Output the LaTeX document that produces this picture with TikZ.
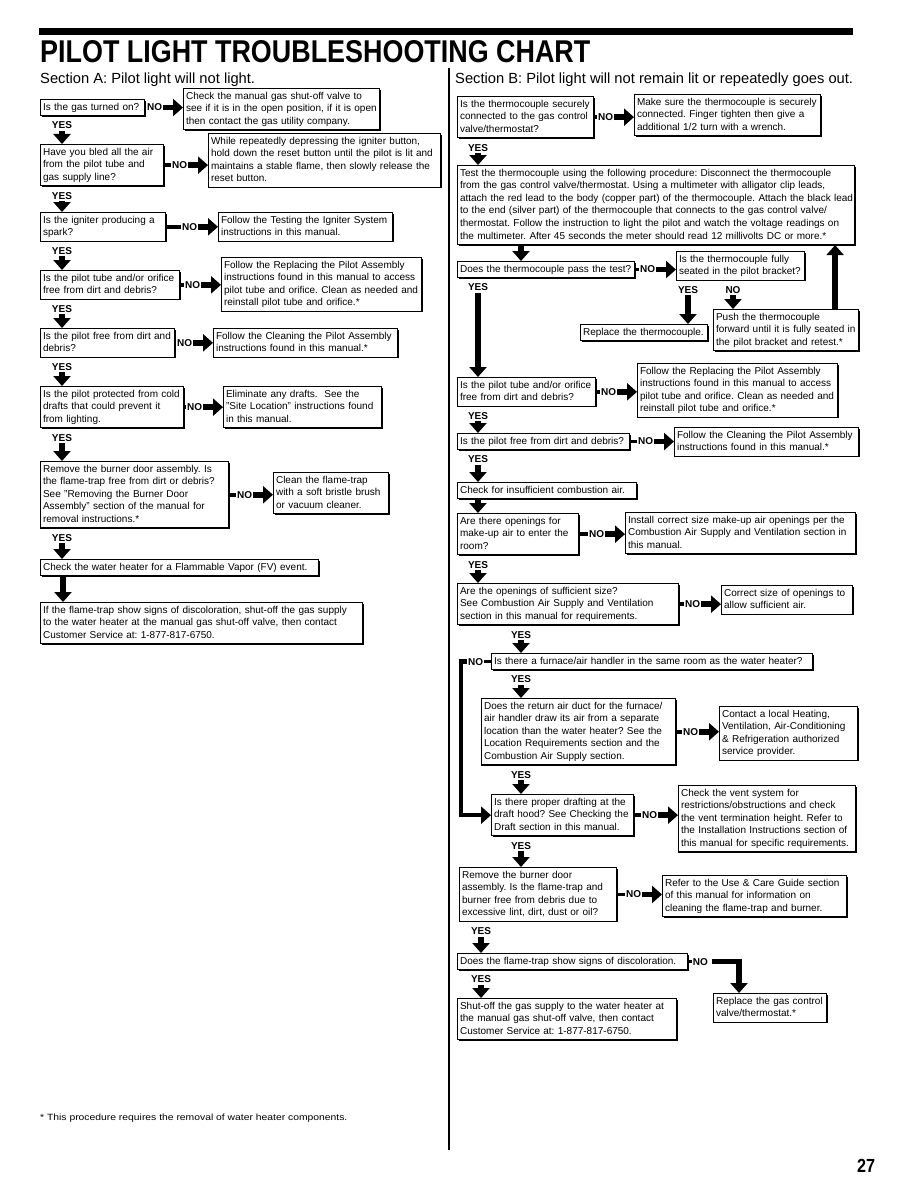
\documentclass[tikz,border=0pt]{standalone}
\usepackage{fontspec}
\setmainfont{Liberation Sans}
\usepackage{graphicx}
\usetikzlibrary{arrows.meta,calc,shadows}
\frenchspacing
\newcommand\lns[1]{\begin{tabular}{@{}l@{}}#1\end{tabular}}
\tikzset{
  box/.style={draw, line width=1.1pt, fill=white, anchor=north west,
    inner xsep=2.5pt, inner ysep=1.7pt, align=left,
    font=\fontsize{10}{12.6}\selectfont,
    drop shadow={shadow xshift=1pt, shadow yshift=-1pt, fill=black, opacity=1}},
  lab/.style={font=\bfseries\fontsize{10}{12}\selectfont, inner sep=0.6pt},
  bar/.style={line width=3.5pt},
  fat/.style={line width=5.5pt, -{Triangle[length=10pt,width=17pt]}},
  loopln/.style={line width=4.5pt, -{Triangle[length=10pt,width=17pt]}},
}
\newcommand\NOconn[3]{%
  \node[lab,anchor=east] (#3) at ($(#2.west |- #1.east)+(-20,0)$) {NO};
  \draw[bar] (#1.east) -- (#3.west);
  \draw[fat] (#3.east) -- (#2.west |- #3.east);}
\newcommand\YESconn[4]{%
  \node[lab,anchor=north] (#3) at ($(#1.south west)+(#4,5)$) {YES};
  \draw[fat] ($(#3.south)+(0,1)$) -- (#3.south |- #2.north);}
\begin{document}
\begin{tikzpicture}[x=1pt,y=-1pt]
\fill[white] (0,0) rectangle (918,1188);
\useasboundingbox (0,0) rectangle (918,1188);
% header
\fill[black] (39,28) rectangle (853,35);
\node[anchor=north west, inner sep=0] (title) at (40,40)
  {\resizebox{550pt}{22pt}{\bfseries PILOT LIGHT TROUBLESHOOTING CHART}};
\node[anchor=base west, inner sep=0, font=\fontsize{14.7}{17}\selectfont] (secA) at (40,84)
  {Section A: Pilot light will not light.};
\node[anchor=base west, inner sep=0, font=\fontsize{14.7}{17}\selectfont] (secB) at (455,84)
  {Section B: Pilot light will not remain lit or repeatedly goes out.};
\draw[line width=1.2pt] (449,68) -- (449,1150);

% ---------------- Section A ----------------
\node[box, text width=99pt] (A1) at (40,99) {\lns{Is the gas turned on?}};
\node[box, text width=191pt] (A1n) at (183,88) {\lns{Check the manual gas shut-off valve to\\see if it is in the open position, if it is open\\then contact the gas utility company.}};
\node[box, text width=118pt] (A2) at (40,144) {\lns{Have you bled all the air\\from the pilot tube and\\gas supply line?}};
\node[box, text width=227pt] (A2n) at (208,133) {\lns{While repeatedly depressing the igniter button,\\hold down the reset button until the pilot is lit and\\maintains a stable flame, then slowly release the\\reset button.}};
\node[box, text width=120pt] (A3) at (40,212) {\lns{Is the igniter producing a\\spark?}};
\node[box, text width=169pt] (A3n) at (218,212) {\lns{Follow the Testing the Igniter System\\instructions in this manual.}};
\node[box, text width=134pt] (A4) at (40,270) {\lns{Is the pilot tube and/or orifice\\free from dirt and debris?}};
\node[box, text width=195pt] (A4n) at (221,257) {\lns{Follow the Replacing the Pilot Assembly\\instructions found in this manual to access\\pilot tube and orifice. Clean as needed and\\reinstall pilot tube and orifice.*}};
\node[box, text width=129pt] (A5) at (40,328) {\lns{Is the pilot free from dirt and\\debris?}};
\node[box, text width=179pt] (A5n) at (213,328) {\lns{Follow the Cleaning the Pilot Assembly\\instructions found in this manual.*}};
\node[box, text width=138pt] (A6) at (40,386) {\lns{Is the pilot protected from cold\\drafts that could prevent it\\from lighting.}};
\node[box, text width=153pt] (A6n) at (223,386) {\lns{Eliminate any drafts.\ \ See the\\"Site Location" instructions found\\in this manual.}};
\node[box, text width=183pt] (A7) at (40,461) {\lns{Remove the burner door assembly. Is\\the flame-trap free from dirt or debris?\\See "Removing the Burner Door\\Assembly" section of the manual for\\removal instructions.*}};
\node[box, text width=110pt] (A7n) at (273,472) {\lns{Clean the flame-trap\\with a soft bristle brush\\or vacuum cleaner.}};
\node[box, text width=273pt] (A8) at (40,559) {\lns{Check the water heater for a Flammable Vapor (FV) event.}};
\node[box, text width=317pt] (A9) at (40,602) {\lns{If the flame-trap show signs of discoloration, shut-off the gas supply\\to the water heater at the manual gas shut-off valve, then contact\\Customer Service at: 1-877-817-6750.}};

\NOconn{A1}{A1n}{nA1}
\NOconn{A2}{A2n}{nA2}
\NOconn{A3}{A3n}{nA3}
\NOconn{A4}{A4n}{nA4}
\NOconn{A5}{A5n}{nA5}
\NOconn{A6}{A6n}{nA6}
\NOconn{A7}{A7n}{nA7}
\YESconn{A1}{A2}{yA1}{22}
\YESconn{A2}{A3}{yA2}{22}
\YESconn{A3}{A4}{yA3}{22}
\YESconn{A4}{A5}{yA4}{22}
\YESconn{A5}{A6}{yA5}{22}
\YESconn{A6}{A7}{yA6}{22}
\YESconn{A7}{A8}{yA7}{22}
\coordinate (a8o) at ($(A8.south west)+(23,0)$);
\draw[fat] (a8o) -- (a8o |- A9.north);

% ---------------- Section B ----------------
\node[box, text width=131pt] (B1) at (457,96) {\lns{Is the thermocouple securely\\connected to the gas control\\valve/thermostat?}};
\node[box, text width=181pt] (B1n) at (634,94) {\lns{Make sure the thermocouple is securely\\connected. Finger tighten then give a\\additional 1/2 turn with a wrench.}};
\node[box, text width=392pt] (B2) at (457,165) {\lns{Test the thermocouple using the following procedure: Disconnect the thermocouple\\from the gas control valve/thermostat. Using a multimeter with alligator clip leads,\\attach the red lead to the body (copper part) of the thermocouple. Attach the black lead\\to the end (silver part) of the thermocouple that connects to the gas control valve/\\thermostat. Follow the instruction to light the pilot and watch the voltage readings on\\the multimeter. After 45 seconds the meter should read 12 millivolts DC or more.*}};
\node[box, text width=172pt] (B3) at (457,261) {\lns{Does the thermocouple pass the test?}};
\node[box, text width=123pt] (B3n) at (676,251) {\lns{Is the thermocouple fully\\seated in the pilot bracket?}};
\node[box, text width=122pt] (Rep) at (580,324) {\lns{Replace the thermocouple.}};
\node[box, text width=140pt] (Push) at (713,309) {\lns{Push the thermocouple\\forward until it is fully seated in\\the pilot bracket and retest.*}};
\node[box, text width=133pt] (B6) at (457,377) {\lns{Is the pilot tube and/or orifice\\free from dirt and debris?}};
\node[box, text width=195pt] (B6n) at (637,363) {\lns{Follow the Replacing the Pilot Assembly\\instructions found in this manual to access\\pilot tube and orifice. Clean as needed and\\reinstall pilot tube and orifice.*}};
\node[box, text width=167pt] (B7) at (457,433) {\lns{Is the pilot free from dirt and debris?}};
\node[box, text width=179pt] (B7n) at (674,427) {\lns{Follow the Cleaning the Pilot Assembly\\instructions found in this manual.*}};
\node[box, text width=174pt] (B8) at (457,482) {\lns{Check for insufficient combustion air.}};
\node[box, text width=116pt] (B9) at (457,513) {\lns{Are there openings for\\make-up air to enter the\\room?}};
\node[box, text width=225pt] (B9n) at (625,512) {\lns{Install correct size make-up air openings per the\\Combustion Air Supply and Ventilation section in\\this manual.}};
\node[box, text width=216pt] (B10) at (457,583) {\lns{Are the openings of sufficient size?\\See Combustion Air Supply and Ventilation\\section in this manual for requirements.}};
\node[box, text width=126pt] (B10n) at (721,585) {\lns{Correct size of openings to\\allow sufficient air.}};
\node[box, text width=316pt] (B11) at (491,653) {\lns{Is there a furnace/air handler in the same room as the water heater?}};
\node[box, text width=189pt] (B12) at (481,698) {\lns{Does the return air duct for the furnace/\\air handler draw its air from a separate\\location than the water heater? See the\\Location Requirements section and the\\Combustion Air Supply section.}};
\node[box, text width=133pt] (B12n) at (719,706) {\lns{Contact a local Heating,\\Ventilation, Air-Conditioning\\\& Refrigeration authorized\\service provider.}};
\node[box, text width=137pt] (B13) at (491,794) {\lns{Is there proper drafting at the\\draft hood? See Checking the\\Draft section in this manual.}};
\node[box, text width=172pt] (B13n) at (678,785) {\lns{Check the vent system for\\restrictions/obstructions and check\\the vent termination height. Refer to\\the Installation Instructions section of\\this manual for specific requirements.}};
\node[box, text width=152pt] (B14) at (459,867) {\lns{Remove the burner door\\assembly. Is the flame-trap and\\burner free from debris due to\\excessive lint, dirt, dust or oil?}};
\node[box, text width=179pt] (B14n) at (662,875) {\lns{Refer to the Use \& Care Guide section\\of this manual for information on\\cleaning the flame-trap and burner.}};
\node[box, text width=225pt] (B15) at (457,953) {\lns{Does the flame-trap show signs of discoloration.}};
\node[box, text width=108pt] (B15n) at (713,993) {\lns{Replace the gas control\\valve/thermostat.*}};
\node[box, text width=214pt] (B16) at (457,998) {\lns{Shut-off the gas supply to the water heater at\\the manual gas shut-off valve, then contact\\Customer Service at: 1-877-817-6750.}};

\NOconn{B1}{B1n}{nB1}
\NOconn{B3}{B3n}{nB3}
\NOconn{B6}{B6n}{nB6}
\NOconn{B7}{B7n}{nB7}
\NOconn{B9}{B9n}{nB9}
\NOconn{B10}{B10n}{nB10}
\NOconn{B12}{B12n}{nB12}
\NOconn{B13}{B13n}{nB13}
\NOconn{B14}{B14n}{nB14}

\YESconn{B1}{B2}{yB1}{21}
\coordinate (b2o) at ($(B2.south west)+(64,0)$);
\draw[fat] (b2o) -- (b2o |- B3.north);
\YESconn{B3}{B6}{yB3}{21}
\YESconn{B3n}{Rep}{yB3n}{12}
\node[lab,anchor=north] (nB3n) at ($(B3n.south west)+(57,5)$) {NO};
\draw[fat] ($(nB3n.south)+(0,1)$) -- (nB3n.south |- Push.north);
\coordinate (pu) at ($(Push.north east)+(-24,0)$);
\draw[fat] (pu) -- (pu |- B2.south);
\YESconn{B6}{B7}{yB6}{21}
\YESconn{B7}{B8}{yB7}{21}
\coordinate (b8o) at ($(B8.south west)+(21,0)$);
\draw[fat] (b8o) -- (b8o |- B9.north);
\YESconn{B9}{B10}{yB9}{21}
\YESconn{B10}{B11}{yB10}{64}
\YESconn{B11}{B12}{yB11}{30}
\YESconn{B12}{B13}{yB12}{40}
\YESconn{B13}{B14}{yB13}{30}
\YESconn{B14}{B15}{yB14}{22}
\YESconn{B15}{B16}{yB15}{24}

% NO loop from B11 to B13
\node[lab,anchor=east] (nB11) at ($(B11.west)+(-7,0)$) {NO};
\draw[bar] (B11.west) -- (nB11.east);
\coordinate (lx) at (461,0);
\draw[loopln] (nB11.west) -- (nB11.west -| lx) -- (lx |- B13.west) -- (B13.west);

% NO from B15 to B15n
\node[lab,anchor=west] (nB15) at ($(B15.east)+(4,0)$) {NO};
\draw[bar] (B15.east) -- (nB15.west);
\coordinate (c15) at ($(B15n.north west)+(26,0)$);
\draw[fat] ($(nB15.east)+(3,0)$) -- (c15 |- nB15.east) -- (c15);

% footer
\node[anchor=base west, inner sep=0] (foot) at (40,1120)
  {\scalebox{1.15}[1]{\fontsize{9}{11}\selectfont * This procedure requires the removal of water heater components.}};
\node[anchor=base west, inner sep=0] (pg) at (857,1172)
  {\scalebox{0.85}[1]{\fontsize{19}{20}\selectfont\bfseries 27}};
\end{tikzpicture}
\end{document}
